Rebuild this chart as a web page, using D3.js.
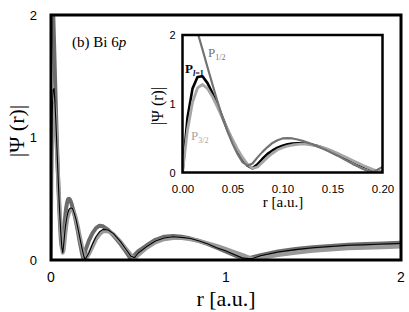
<!DOCTYPE html>
<html><head><meta charset="utf-8">
<script src="https://cdn.jsdelivr.net/npm/d3@7"></script>
<style>
body{margin:0;background:#fff;}
svg{display:block;}
.serif{font-family:"Liberation Serif","DejaVu Serif",serif;}
.sans{font-family:"Liberation Sans","DejaVu Sans",sans-serif;}
</style></head>
<body>
<svg id="chart" width="409" height="312"></svg>
<script>
// ---- data ----
// inner region r in [0, 0.2] (shown in the inset and the start of the main plot)
const rInner = [0,0.005,0.01,0.015,0.02,0.025,0.03,0.035,0.04,0.045,0.05,0.055,0.06,0.065,0.07,0.075,0.08,0.085,0.09,0.095,0.1,0.105,0.11,0.115,0.12,0.125,0.13,0.135,0.14,0.145,0.15,0.155,0.16,0.165,0.17,0.175,0.18,0.185,0.19,0.195,0.2];
const pL1Inner = [0,0.80,1.22,1.39,1.40,1.30,1.15,0.98,0.80,0.62,0.46,0.32,0.20,0.10,0.06,0.12,0.20,0.27,0.32,0.36,0.39,0.41,0.42,0.425,0.425,0.42,0.405,0.385,0.36,0.335,0.305,0.27,0.235,0.20,0.165,0.13,0.095,0.065,0.035,0.012,0.01];
const p12Inner = [3.2,2.7,2.3,2.04,1.79,1.53,1.28,1.03,0.80,0.60,0.42,0.27,0.15,0.10,0.13,0.22,0.30,0.37,0.43,0.47,0.495,0.50,0.495,0.48,0.46,0.435,0.41,0.38,0.35,0.315,0.28,0.245,0.205,0.165,0.125,0.09,0.055,0.025,0.005,0.04,0.08];
const p32Inner = [0,0.62,1.02,1.23,1.28,1.22,1.10,0.95,0.79,0.63,0.48,0.34,0.22,0.12,0.06,0.08,0.15,0.22,0.28,0.33,0.36,0.385,0.40,0.41,0.415,0.41,0.40,0.385,0.365,0.34,0.31,0.28,0.245,0.21,0.175,0.14,0.105,0.075,0.045,0.02,0.005];
// outer region r in (0.2, 2]
const rOuter = [0.22,0.24,0.26,0.28,0.30,0.33,0.36,0.40,0.43,0.46,0.48,0.50,0.55,0.60,0.65,0.70,0.75,0.80,0.85,0.90,0.95,1.00,1.05,1.10,1.15,1.20,1.30,1.40,1.50,1.60,1.70,1.80,1.90,2.00];
const p12Outer = [0.16,0.22,0.26,0.28,0.275,0.245,0.20,0.13,0.07,0.005,0.04,0.07,0.12,0.165,0.19,0.195,0.19,0.175,0.155,0.13,0.10,0.07,0.04,0.01,0.02,0.04,0.07,0.09,0.105,0.115,0.125,0.13,0.135,0.14];
const pL1Outer = [0.06,0.13,0.19,0.23,0.25,0.245,0.215,0.15,0.09,0.03,0.02,0.055,0.11,0.155,0.18,0.19,0.185,0.175,0.155,0.13,0.10,0.075,0.045,0.015,0.01,0.035,0.065,0.085,0.10,0.11,0.12,0.125,0.13,0.135];
const p32Outer = [0.05,0.11,0.17,0.21,0.235,0.235,0.21,0.15,0.095,0.04,0.01,0.04,0.10,0.145,0.17,0.18,0.18,0.17,0.155,0.135,0.115,0.09,0.065,0.04,0.01,0.015,0.04,0.06,0.075,0.085,0.095,0.10,0.105,0.11];

const mainXTicks = [0,1,2];
const mainYTicks = [0,1,2];
const insetXTicks = [0,0.05,0.10,0.15,0.20];
const insetYTicks = [0,1,2];

// ---- build ----
const zip = (rs, vs) => rs.map((r,i)=>({r, v: vs[i]}));
const mainSeries = {
  "P1/2": zip(rInner.concat(rOuter), p12Inner.concat(p12Outer)),
  "P3/2": zip(rInner.concat(rOuter), p32Inner.concat(p32Outer)),
  "Pl=1": zip(rInner.concat(rOuter), pL1Inner.concat(pL1Outer))
};
const insetSeries = {
  "P1/2": zip(rInner, p12Inner),
  "P3/2": zip(rInner, p32Inner),
  "Pl=1": zip(rInner, pL1Inner)
};

const svg = d3.select("#chart");

// main plot
const M = {l:51, r:401, t:15, b:260};
const x = d3.scaleLinear().domain([0,2]).range([50.5,400.5]);
const y = d3.scaleLinear().domain([0,2]).range([M.b, M.t]);

const defs = svg.append("defs");
defs.append("clipPath").attr("id","clipMain").append("rect")
  .attr("x",M.l).attr("y",M.t).attr("width",M.r-M.l).attr("height",M.b-M.t);

const mainStyles = {
  "P1/2": {c:"#6c6c6c", w:4},
  "P3/2": {c:"#999999", w:4},
  "Pl=1": {c:"#000", w:1.1}
};
const lineMain = d3.line().x(d=>x(d.r)).y(d=>y(d.v));
const gMain = svg.append("g").attr("clip-path","url(#clipMain)");
["P1/2","P3/2","Pl=1"].forEach(k=>{
  gMain.append("path").datum(mainSeries[k])
    .attr("d",lineMain).attr("fill","none")
    .attr("stroke",mainStyles[k].c).attr("stroke-width",mainStyles[k].w)
    .attr("stroke-linejoin","round");
});

// frame
svg.append("rect").attr("x",M.l).attr("y",M.t).attr("width",M.r-M.l).attr("height",M.b-M.t)
  .attr("fill","none").attr("stroke","#000").attr("stroke-width",3);

// axes
const xAx = svg.append("g").attr("transform",`translate(0,${M.b})`)
  .call(d3.axisBottom(x).tickValues(mainXTicks).tickFormat(d3.format("d")).tickSize(0).tickPadding(12));
xAx.select(".domain").remove();
xAx.attr("font-family",null).attr("font-size",null);
xAx.selectAll("text").attr("class","sans").attr("font-size",14).attr("fill","#000");

const yAx = svg.append("g").attr("transform",`translate(${M.l},0)`)
  .call(d3.axisLeft(y).tickValues(mainYTicks).tickFormat(d3.format("d")).tickSize(0).tickPadding(14));
yAx.select(".domain").remove();
yAx.attr("font-family",null).attr("font-size",null);
yAx.selectAll("text").attr("class","sans").attr("font-size",13).attr("fill","#000");

svg.append("text").attr("class","serif").attr("x",226).attr("y",306).attr("text-anchor","middle")
  .attr("font-size",22).text("r [a.u.]");
svg.append("text").attr("class","serif").attr("transform","translate(24,131) rotate(-90)").attr("text-anchor","middle")
  .attr("font-size",22).text("|Ψ (r)|");

const tb = svg.append("text").attr("class","serif").attr("x",72).attr("y",47).attr("font-size",15);
tb.append("tspan").text("(b) Bi 6");
tb.append("tspan").attr("font-style","italic").text("p");

// ---- inset ----
const I = {l:182.5, r:382.5, t:35, b:172.5};
const xi = d3.scaleLinear().domain([0,0.2]).range([I.l,I.r]);
const yi = d3.scaleLinear().domain([0,2]).range([I.b,I.t]);

svg.append("rect").attr("x",I.l).attr("y",I.t).attr("width",I.r-I.l).attr("height",I.b-I.t).attr("fill","#fff");
defs.append("clipPath").attr("id","clipInset").append("rect")
  .attr("x",I.l).attr("y",I.t).attr("width",I.r-I.l).attr("height",I.b-I.t);

const insetStyles = {
  "Pl=1": {c:"#000", w:2.6},
  "P3/2": {c:"#a6a6a6", w:2.8},
  "P1/2": {c:"#727272", w:2.2}
};
const lineInset = d3.line().x(d=>xi(d.r)).y(d=>yi(d.v));
const gIn = svg.append("g").attr("clip-path","url(#clipInset)");
["Pl=1","P3/2","P1/2"].forEach(k=>{
  gIn.append("path").datum(insetSeries[k])
    .attr("d",lineInset).attr("fill","none")
    .attr("stroke",insetStyles[k].c).attr("stroke-width",insetStyles[k].w)
    .attr("stroke-linejoin","round");
});

svg.append("rect").attr("x",I.l).attr("y",I.t).attr("width",I.r-I.l).attr("height",I.b-I.t)
  .attr("fill","none").attr("stroke","#000").attr("stroke-width",2.5);

const xiAx = svg.append("g").attr("transform",`translate(0,${I.b})`)
  .call(d3.axisBottom(xi).tickValues(insetXTicks).tickFormat(d3.format(".2f")).tickSize(0).tickPadding(12));
xiAx.select(".domain").remove();
xiAx.attr("font-family",null).attr("font-size",null);
xiAx.selectAll("text").attr("class","sans").attr("font-size",11.5).attr("fill","#000");

const yiAx = svg.append("g").attr("transform",`translate(${I.l},0)`)
  .call(d3.axisLeft(yi).tickValues(insetYTicks).tickFormat(d3.format("d")).tickSize(0).tickPadding(7));
yiAx.select(".domain").remove();
yiAx.attr("font-family",null).attr("font-size",null);
yiAx.selectAll("text").attr("class","sans").attr("font-size",11).attr("fill","#000");

svg.append("text").attr("class","serif").attr("x",283).attr("y",207).attr("text-anchor","middle")
  .attr("font-size",15).text("r [a.u.]");
svg.append("text").attr("class","serif").attr("transform","translate(163,106) rotate(-90)").attr("text-anchor","middle")
  .attr("font-size",16).text("|Ψ (r)|");

// series labels in inset
function label(xp, yp, color, bold, main, subParts){
  const t = svg.append("text").attr("class","serif").attr("x",xp).attr("y",yp)
    .attr("font-size",13).attr("fill",color)
    .attr("font-weight", bold ? "bold" : "normal");
  t.append("tspan").text(main);
  subParts.forEach((p,i)=>{
    const s = t.append("tspan").attr("font-size",8).text(p.t);
    if (i===0) s.attr("dy",3);
    if (p.it) s.attr("font-style","italic");
  });
}
label(208, 57, "#727272", false, "P", [{t:"1/2"}]);
label(185, 73, "#000", true, "P", [{t:"l", it:true},{t:"=1"}]);
label(191, 140, "#a6a6a6", false, "P", [{t:"3/2"}]);
</script>
</body></html>
